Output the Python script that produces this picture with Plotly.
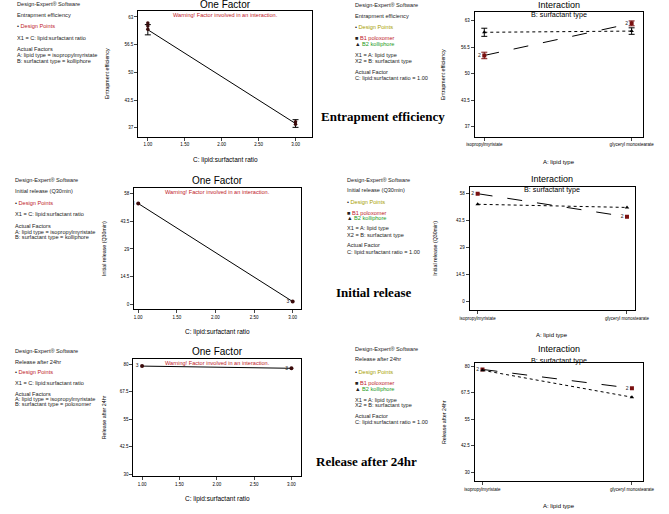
import plotly.graph_objects as go

W, H = 669, 514

# ---------------- data ----------------
ratio = [1.0, 3.0]
ratio_ticks = [1.0, 1.5, 2.0, 2.5, 3.0]
ratio_ticktext = ["1.00", "1.50", "2.00", "2.50", "3.00"]
lipid_types = ["isopropylmyristate", "glyceryl monostearate"]

# Entrapment efficiency
ee_ticks = [37, 43.5, 50, 56.5, 63]
ee_ticktext = ["37", "43.5", "50", "56.5", "63"]
ee_one_pred = [60.0, 38.0]
ee_one_lsd = [1.2, 0.9]
ee_design_x = [1.0, 1.0, 1.0, 3.0, 3.0]
ee_design_y = [61.6, 60.9, 60.1, 38.4, 37.8]
ee_b1 = [54.5, 62.4]
ee_b2 = [60.2, 60.5]
ee_b1_lsd = [0.8, 0.6]
ee_b2_lsd = [1.0, 0.8]

# Initial release (Q30min)
ir_ticks = [0, 14.5, 29, 43.5, 58]
ir_ticktext = ["0", "14.5", "29", "43.5", "58"]
ir_one_pred = [52.8, 1.5]
ir_one_count = ["3", "3"]
ir_b1 = [58.0, 45.6]
ir_b2 = [52.3, 50.6]

# Release after 24hr
r24_ticks = [30, 42.5, 55, 67.5, 80]
r24_ticktext = ["30", "42.5", "55", "67.5", "80"]
r24_one_pred = [79.2, 78.2]
r24_one_count = ["3", "3"]
r24_b1 = [78.5, 69.6]
r24_b2 = [78.1, 65.4]
pair_count = ["2", "2"]

# ---------------- helpers ----------------
def px(x):
    return x / W

def py(y):
    return 1 - y / H

FONT = "Liberation Sans, Arial, sans-serif"
SERIF = "Liberation Serif, Times New Roman, serif"
fig = go.Figure()
annotations = []

def add_axes(idx, box, xrange, yrange, yticks, yticktext, xticks=None, xticktext=None, category=False):
    x0, x1, y0, y1 = box
    sfx = str(idx) if idx > 1 else ""
    xa = dict(domain=[px(x0), px(x1)], range=xrange, showline=True, linecolor="black",
              linewidth=1.2, mirror=True, ticks="outside", ticklen=3, tickwidth=1,
              tickfont=dict(size=4.5, color="black", family=FONT), showgrid=False,
              zeroline=False, anchor="y" + sfx)
    if category:
        xa.update(type="category")
    else:
        xa.update(tickvals=xticks, ticktext=xticktext)
    ya = dict(domain=[py(y1), py(y0)], range=yrange, showline=True, linecolor="black",
              linewidth=1.2, mirror=True, ticks="outside", ticklen=3, tickwidth=1,
              tickvals=yticks, ticktext=yticktext,
              tickfont=dict(size=4.5, color="black", family=FONT), showgrid=False,
              zeroline=False, anchor="x" + sfx)
    fig.layout["xaxis" + sfx] = xa
    fig.layout["yaxis" + sfx] = ya

def ann(x, y, text, size=5.6, color="#222", xanchor="left", angle=0, family=FONT):
    annotations.append(dict(x=px(x), y=py(y), xref="paper", yref="paper", text=text,
                            showarrow=False, xanchor=xanchor, yanchor="middle", textangle=angle,
                            borderpad=0, font=dict(size=size, color=color, family=family)))

def text_block(x, lines):
    for y, t in lines:
        ann(x, y, t)

DP_ONE = "<span style='color:#222'>•</span> <span style='color:#c0202a'>Design Points</span>"
DP_INT = "<span style='color:#222'>•</span> <span style='color:#a8a000'>Design Points</span>"
B1 = "<span style='color:#222'>■</span> <span style='color:#c0202a'>B1 poloxomer</span>"
B2 = "<span style='color:#222'>▲</span> <span style='color:#1a9a1a'>B2 kolliphore</span>"
WARN = "Warning! Factor involved in an interaction."

def one_factor(idx, box, xr, yr, yt, ytt, pred, ytitle, ytitle_x, title_y, warn_y, lsd=None, count=None):
    sfx = str(idx) if idx > 1 else ""
    xs, ys = "x" + sfx, "y" + sfx
    add_axes(idx, box, xr, yr, yt, ytt, ratio_ticks, ratio_ticktext)
    fig.add_trace(go.Scatter(x=ratio, y=pred, mode="lines", line=dict(color="black", width=1),
                             xaxis=xs, yaxis=ys, showlegend=False))
    if lsd is not None:
        fig.add_trace(go.Scatter(x=ratio, y=pred, mode="markers",
                                 marker=dict(size=1, color="black"),
                                 error_y=dict(type="data", array=lsd, color="black", width=3, thickness=1),
                                 xaxis=xs, yaxis=ys, showlegend=False))
    if count is not None:
        fig.add_trace(go.Scatter(x=ratio, y=pred, mode="markers+text", text=count,
                                 textposition="middle left", textfont=dict(size=5, color="#222", family=FONT),
                                 marker=dict(size=4, color="#3a0a0a"),
                                 xaxis=xs, yaxis=ys, showlegend=False))
    x0, x1, y0, y1 = box
    cx = (x0 + x1) / 2
    ann(cx, title_y, "One Factor", size=10, color="black", xanchor="center")
    ann(cx, warn_y, WARN, size=5.6, color="#c0202a", xanchor="center")
    ann(ytitle_x, (y0 + y1) / 2, ytitle, size=5.3, color="black", xanchor="center", angle=-90)
    ann(cx, y1 + 23, "C: lipid:surfactant ratio", size=6.5, color="black", xanchor="center")
    return xs, ys

def interaction(idx, box, xr, yr, yt, ytt, b1, b2, ytitle, ytitle_x, title_y, sub_y, b1_lsd=None, b2_lsd=None):
    xs, ys = "x" + str(idx), "y" + str(idx)
    add_axes(idx, box, xr, yr, yt, ytt, category=True)
    fig.add_trace(go.Scatter(x=lipid_types, y=b1, mode="lines+markers+text",
                             line=dict(color="black", width=1, dash="longdash"),
                             marker=dict(symbol="square", size=4, color="#7a1010"),
                             text=pair_count, textposition="middle left",
                             textfont=dict(size=5, color="#222", family=FONT),
                             error_y=dict(type="data", array=b1_lsd, color="#7a1010", width=3, thickness=1,
                                          visible=b1_lsd is not None),
                             xaxis=xs, yaxis=ys, showlegend=False))
    fig.add_trace(go.Scatter(x=lipid_types, y=b2, mode="lines+markers",
                             line=dict(color="black", width=1, dash="dot"),
                             marker=dict(symbol="triangle-up", size=4, color="black"),
                             error_y=dict(type="data", array=b2_lsd, color="black", width=3, thickness=1,
                                          visible=b2_lsd is not None),
                             xaxis=xs, yaxis=ys, showlegend=False))
    x0, x1, y0, y1 = box
    cx = (x0 + x1) / 2
    ann(cx, title_y, "Interaction", size=9, color="black", xanchor="center")
    ann(cx, sub_y, "B: surfactant type", size=7.2, color="black", xanchor="center")
    ann(ytitle_x, (y0 + y1) / 2, ytitle, size=5.3, color="black", xanchor="center", angle=-90)
    ann(cx, y1 + 25, "A: lipid type", size=6, color="black", xanchor="center")

# ---------------- row 1: entrapment efficiency ----------------
xs, ys = one_factor(1, (133, 313, 11, 137), [0.87, 3.22], [34.9, 64.4], ee_ticks, ee_ticktext,
                    ee_one_pred, "Entrapment efficiency", 100, 5, 15, lsd=ee_one_lsd)
fig.add_trace(go.Scatter(x=ee_design_x, y=ee_design_y, mode="markers",
                         marker=dict(size=3.5, color="#3a0a0a"), xaxis=xs, yaxis=ys, showlegend=False))
interaction(2, (482, 657, 12, 137), [-0.065, 1.08], [34.5, 65.2], ee_ticks, ee_ticktext,
            ee_b1, ee_b2, "Entrapment efficiency", 449, 5, 15, b1_lsd=ee_b1_lsd, b2_lsd=ee_b2_lsd)

text_block(6, [(4, "Design-Expert® Software"), (15, "Entrapment efficiency"), (26, DP_ONE),
               (38, "X1 = C: lipid:surfactant ratio"), (49, "Actual Factors"),
               (55, "A: lipid type = isopropylmyristate"), (61, "B: surfactant type = kolliphore")])
text_block(357, [(5, "Design-Expert® Software"), (16, "Entrapment efficiency"), (27, DP_INT),
                 (38, B1), (44, B2), (55, "X1 = A: lipid type"), (61, "X2 = B: surfactant type"),
                 (72, "Actual Factor"), (78, "C: lipid:surfactant ratio = 1.00")])
ann(387, 117, "<b>Entrapment efficiency</b>", size=13, color="black", xanchor="center", family=SERIF)

# ---------------- row 2: initial release ----------------
one_factor(3, (129, 302, 188, 310), [0.95, 3.11], [-2.6, 61.1], ir_ticks, ir_ticktext,
           ir_one_pred, "Initial release (Q30min)", 97, 181, 192, count=ir_one_count)
interaction(4, (477, 648, 187, 311), [-0.052, 1.052], [-4.8, 61.8], ir_ticks, ir_ticktext,
            ir_b1, ir_b2, "Initial release (Q30min)", 440, 179, 190)

text_block(4, [(180, "Design-Expert® Software"), (191, "Initial release (Q30min)"), (203, DP_ONE),
               (214, "X1 = C: lipid:surfactant ratio"), (226, "Actual Factors"),
               (232, "A: lipid type = isopropylmyristate"), (237, "B: surfactant type = kolliphore")])
text_block(348, [(180, "Design-Expert® Software"), (190, "Initial release (Q30min)"), (202, DP_INT),
                 (213, B1), (218, B2), (228, "X1 = A: lipid type"), (235, "X2 = B: surfactant type"),
                 (245, "Actual Factor"), (252, "C: lipid:surfactant ratio = 1.00")])
ann(377, 293, "<b>Initial release</b>", size=13, color="black", xanchor="center", family=SERIF)

# ---------------- row 3: release after 24hr ----------------
one_factor(5, (128, 302, 360, 477), [0.884, 3.13], [29.1, 82.3], r24_ticks, r24_ticktext,
           r24_one_pred, "Release after 24hr", 97, 352, 364, count=r24_one_count)
interaction(6, (482, 657, 364, 482), [-0.052, 1.077], [25.8, 81.4], r24_ticks, r24_ticktext,
            r24_b1, r24_b2, "Release after 24hr", 450, 350, 361)

text_block(4, [(352, "Design-Expert® Software"), (363, "Release after 24hr"), (373, DP_ONE),
               (384, "X1 = C: lipid:surfactant ratio"), (395, "Actual Factors"),
               (400, "A: lipid type = isopropylmyristate"), (405, "B: surfactant type = poloxomer")])
text_block(357, [(350, "Design-Expert® Software"), (360, "Release after 24hr"), (373, DP_INT),
                 (384, B1), (390, B2), (401, "X1 = A: lipid type"), (406, "X2 = B: surfactant type"),
                 (417, "Actual Factor"), (423, "C: lipid:surfactant ratio = 1.00")])
ann(370, 462, "<b>Release after 24hr</b>", size=13, color="black", xanchor="center", family=SERIF)

fig.update_layout(width=W, height=H, margin=dict(l=0, r=0, t=0, b=0),
                  paper_bgcolor="white", plot_bgcolor="white", annotations=annotations,
                  font=dict(family=FONT, color="black"))
fig.write_html("out.html", config={"displayModeBar": False},
               post_script="document.body.style.margin='0';document.body.style.overflow='hidden';")
